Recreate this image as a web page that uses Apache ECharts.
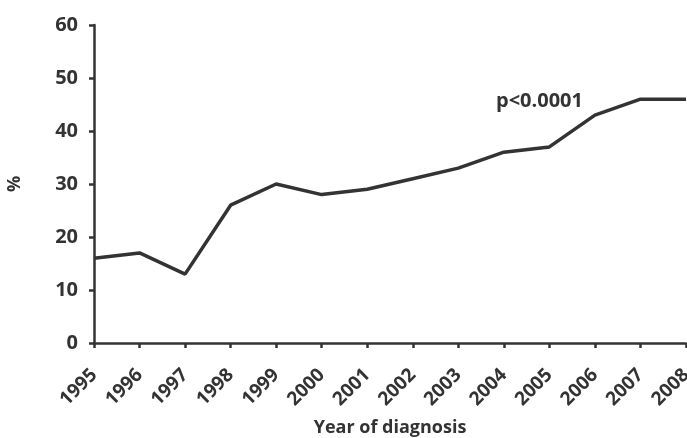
<!DOCTYPE html>
<html>
<head>
<meta charset="utf-8">
<script src="https://cdn.jsdelivr.net/npm/echarts@6/dist/echarts.min.js"></script>
<style>
  html, body { margin: 0; padding: 0; background: #fff; }
  #main { width: 687px; height: 438px; }
</style>
</head>
<body>
<div id="main"></div>
<script>
// data
const years = ['1995', '1996', '1997', '1998', '1999', '2000', '2001', '2002', '2003', '2004', '2005', '2006', '2007', '2008'];
const percent = [16, 17, 13, 26, 30, 28, 29, 31, 33, 36, 37, 43, 46, 46];
const pText = 'p<0.0001';

const ink = '#333333';
const font = 'Open Sans';

const chart = echarts.init(document.getElementById('main'));
chart.setOption({
  animation: false,
  grid: { left: 94, right: 1, top: 25, bottom: 95, outerBoundsMode: 'none' },
  xAxis: {
    type: 'category',
    data: years,
    boundaryGap: false,
    name: 'Year of diagnosis',
    nameLocation: 'middle',
    nameGap: 76,
    nameTextStyle: { color: ink, fontFamily: font, fontWeight: 'bold', fontSize: 18 },
    axisLine: { lineStyle: { color: ink, width: 2.5 } },
    axisTick: { alignWithLabel: true, length: 5, lineStyle: { color: ink, width: 2.5 } },
    axisLabel: { color: ink, fontFamily: font, fontWeight: 'bold', fontSize: 19, rotate: 45, margin: 29, interval: 0 }
  },
  yAxis: {
    type: 'value',
    min: 0,
    max: 60,
    interval: 10,
    name: '%',
    nameLocation: 'middle',
    nameRotate: 90,
    nameGap: 70,
    nameTextStyle: { color: ink, fontFamily: font, fontWeight: 'bold', fontSize: 18 },
    splitLine: { show: false },
    axisLine: { show: true, lineStyle: { color: ink, width: 2.5 } },
    axisTick: { show: true, length: 5, lineStyle: { color: ink, width: 2.5 } },
    axisLabel: { color: ink, fontFamily: font, fontWeight: 'bold', fontSize: 20, margin: 16 }
  },
  series: [{
    type: 'line',
    data: percent,
    symbol: 'none',
    lineStyle: { color: ink, width: 3.5 }
  }],
  graphic: [{
    type: 'text',
    left: 496,
    top: 91,
    style: { text: pText, fill: ink, font: 'bold 20px ' + font }
  }]
});
</script>
</body>
</html>
